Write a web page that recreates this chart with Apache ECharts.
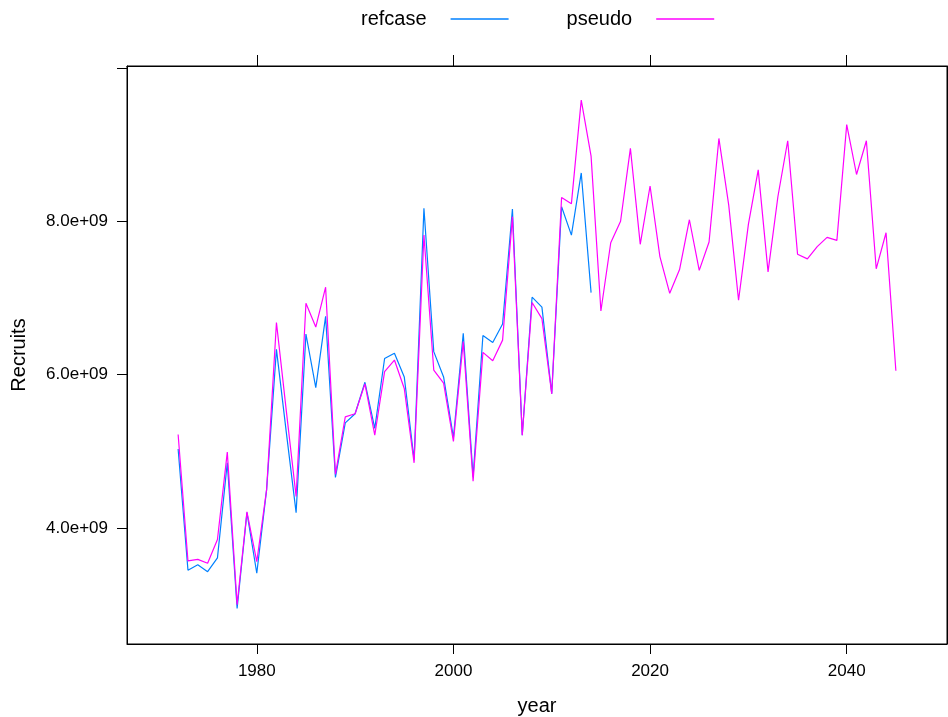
<!DOCTYPE html>
<html>
<head>
<meta charset="utf-8">
<script src="https://cdn.jsdelivr.net/npm/echarts@6/dist/echarts.min.js"></script>
<style>
html,body{margin:0;padding:0;background:#fff;}
#chart{width:948px;height:717px;}
</style>
</head>
<body>
<div id="chart"></div>
<script>
// Data (values in units of 1e9 recruits)
var refYears = [1972,1973,1974,1975,1976,1977,1978,1979,1980,1981,1982,1983,1984,1985,1986,1987,1988,1989,1990,1991,1992,1993,1994,1995,1996,1997,1998,1999,2000,2001,2002,2003,2004,2005,2006,2007,2008,2009,2010,2011,2012,2013,2014];
var refcase = [5.03,3.45,3.52,3.43,3.61,4.85,2.95,4.20,3.41,4.50,6.33,5.25,4.20,6.53,5.83,6.76,4.66,5.37,5.49,5.90,5.30,6.21,6.28,5.97,4.89,8.17,6.30,5.97,5.18,6.54,4.67,6.51,6.42,6.66,8.16,5.21,7.01,6.88,5.75,8.19,7.82,8.63,7.07];
var pseudoYears = [1972,1973,1974,1975,1976,1977,1978,1979,1980,1981,1982,1983,1984,1985,1986,1987,1988,1989,1990,1991,1992,1993,1994,1995,1996,1997,1998,1999,2000,2001,2002,2003,2004,2005,2006,2007,2008,2009,2010,2011,2012,2013,2014,2015,2016,2017,2018,2019,2020,2021,2022,2023,2024,2025,2026,2027,2028,2029,2030,2031,2032,2033,2034,2035,2036,2037,2038,2039,2040,2041,2042,2043,2044,2045];
var pseudo = [5.22,3.57,3.59,3.54,3.85,4.99,3.00,4.21,3.56,4.50,6.68,5.53,4.41,6.93,6.62,7.14,4.70,5.45,5.49,5.88,5.21,6.04,6.19,5.82,4.85,7.82,6.06,5.89,5.13,6.43,4.61,6.29,6.18,6.45,8.06,5.21,6.94,6.73,5.75,8.31,8.23,9.58,8.85,6.83,7.72,8.00,8.95,7.70,8.46,7.54,7.06,7.37,8.02,7.36,7.73,9.08,8.21,6.97,7.96,8.67,7.34,8.32,9.05,7.57,7.51,7.67,7.79,7.75,9.26,8.61,9.05,7.38,7.85,6.05];
var xTicks = [1980,2000,2020,2040];
var yTicks = [4e9,6e9,8e9,1e10];
var yLabels = [4e9,6e9,8e9];
var seriesNames = ['refcase','pseudo'];
var colors = ['#0080ff','#ff00ff'];

function pairs(xs, vs){ return xs.map(function(x,i){ return [x, vs[i]*1e9]; }); }

var font = 'Liberation Sans, Arial, sans-serif';
var chart = echarts.init(document.getElementById('chart'), null, {renderer:'canvas'});
chart.setOption({
  animation:false,
  backgroundColor:'#fff',
  color: colors,
  legend:{
    data: seriesNames,
    left: 356, top: 4,
    align:'right',
    icon:'rect', itemWidth:58, itemHeight:1.3,
    itemGap:58,
    textStyle:{fontSize:20, color:'#000', fontFamily:font, padding:[0,19,0,0]}
  },
  grid:{left:127, top:66, right:1, bottom:73, outerBoundsMode:'none', containLabel:false,
        show:true, borderColor:'#000', borderWidth:1, backgroundColor:'transparent'},
  xAxis:[{
    type:'value', min:1966.8, max:2050.2, position:'bottom',
    name:'year', nameLocation:'middle', nameGap:52,
    nameTextStyle:{fontSize:20, color:'#000', fontFamily:font},
    axisLine:{show:true, onZero:false, lineStyle:{color:'#000', width:1}},
    axisTick:{show:true, length:10, inside:false, customValues:xTicks, lineStyle:{color:'#000'}},
    axisLabel:{show:true, customValues:xTicks, fontSize:17, color:'#000', fontFamily:font, margin:19,
      formatter:function(v){ return String(v); }},
    splitLine:{show:false}
  },{
    type:'value', min:1966.8, max:2050.2, position:'top',
    axisLine:{show:true, onZero:false, lineStyle:{color:'#000', width:1}},
    axisTick:{show:true, length:11, customValues:xTicks, lineStyle:{color:'#000'}},
    axisLabel:{show:false},
    splitLine:{show:false}
  }],
  yAxis:[{
    type:'value', min:2.487e9, max:1.0025e10, position:'left',
    name:'Recruits', nameLocation:'middle', nameGap:98,
    nameTextStyle:{fontSize:20, color:'#000', fontFamily:font},
    axisLine:{show:true, onZero:false, lineStyle:{color:'#000', width:1}},
    axisTick:{show:true, length:10, customValues:yTicks, lineStyle:{color:'#000'}},
    axisLabel:{show:true, customValues:yLabels, fontSize:17, color:'#000', fontFamily:font, margin:19,
      formatter:function(v){ var e = Math.floor(Math.log10(v)); var m = v/Math.pow(10,e); return m.toFixed(1)+'e+'+(e<10?'0':'')+e; }},
    splitLine:{show:false}
  },{
    type:'value', min:2.487e9, max:1.0025e10, position:'right',
    axisLine:{show:true, onZero:false, lineStyle:{color:'#000', width:1}},
    axisTick:{show:true, length:10, customValues:yTicks, lineStyle:{color:'#000'}},
    axisLabel:{show:false},
    splitLine:{show:false}
  }],
  series:[{
    name: seriesNames[0], type:'line', xAxisIndex:0, yAxisIndex:0,
    data: pairs(refYears, refcase), showSymbol:false, symbol:'none',
    lineStyle:{color:colors[0], width:1.2}, itemStyle:{color:colors[0]}
  },{
    name: seriesNames[1], type:'line', xAxisIndex:0, yAxisIndex:0,
    data: pairs(pseudoYears, pseudo), showSymbol:false, symbol:'none',
    lineStyle:{color:colors[1], width:1.2}, itemStyle:{color:colors[1]}
  }]
});
</script>
</body>
</html>
